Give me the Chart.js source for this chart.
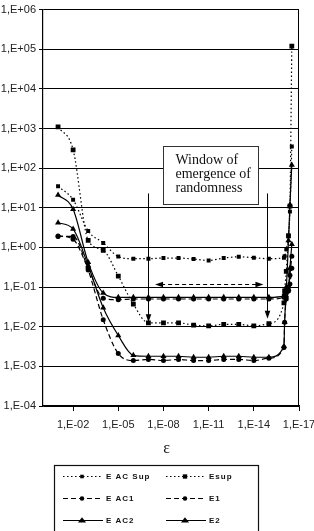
<!DOCTYPE html>
<html><head><meta charset="utf-8">
<script src="https://cdn.jsdelivr.net/npm/chart.js@4/dist/chart.umd.min.js"></script>
<style>html,body{margin:0;padding:0;background:#fff;}#wrap{width:314px;height:531px;position:relative;}</style>
</head><body><div id="wrap"><canvas id="c" width="314" height="531"></canvas></div>
<script>
// epsilon values (x)
const epsilon = [1e-1,1e-2,1e-3,1e-4,1e-5,1e-6,1e-7,1e-8,1e-9,1e-10,1e-11,1e-12,1e-13,1e-14,1e-15,1e-16,9e-17,7e-17,5e-17,4e-17,3e-17];
// series
const eACSup = [35,16,2.6,1.3,0.59,0.52,0.52,0.54,0.54,0.51,0.47,0.54,0.58,0.55,0.52,0.55,0.6,0.9,2,8,350];
const eSup   = [1100,290,1.5,0.85,0.19,0.037,0.0125,0.0125,0.0125,0.011,0.0105,0.0115,0.0115,0.0105,0.012,0.04,0.08,0.25,1.95,11,120000];
const eAC1   = [1.95,1.6,0.3,0.052,0.048,0.05,0.05,0.05,0.05,0.05,0.05,0.05,0.05,0.05,0.05,0.055,0.06,0.07,0.1,0.2,0.6];
const e1     = [1.9,1.9,0.27,0.015,0.0021,0.0014,0.0015,0.0014,0.0015,0.0014,0.0014,0.0015,0.0015,0.0014,0.0016,0.003,0.013,0.05,0.08,0.12,0.3];
const eAC2   = [21,9.2,0.42,0.071,0.055,0.055,0.055,0.055,0.055,0.055,0.055,0.055,0.055,0.055,0.055,0.06,0.07,0.1,1.5,12,120];
const e2     = [4.2,2.9,0.35,0.03,0.006,0.0019,0.0018,0.0018,0.0018,0.0017,0.0017,0.0018,0.0018,0.0017,0.0017,0.0032,0.013,0.06,0.09,0.3,1.2];
// tick labels
const yTickValues = [1e-4,1e-3,1e-2,1e-1,1e0,1e1,1e2,1e3,1e4,1e5,1e6];
const xTickValues = [1e-2,1e-5,1e-8,1e-11,1e-14,1e-17];
const seriesNames = ['E AC Sup','Esup','E AC1','E1','E AC2','E2'];
const annotationLines = ['Window of','emergence of','randomness'];
const xTitle = 'ε';

function fmt(v){
  const e = Math.round(Math.log10(v));
  return '1,E' + (e>=0?'+':'-') + String(Math.abs(e)).padStart(2,'0');
}
function pts(arr){ return arr.map((v,i)=>({x:epsilon[i], y:v})); }

const styles = [
  {dash:[1.5,2.5], pointStyle:'rect', radius:2.8},
  {dash:[1.5,2.5], pointStyle:'rect', radius:3.4},
  {dash:[5,3], pointStyle:'circle', radius:2.5},
  {dash:[5,3], pointStyle:'circle', radius:2.5},
  {dash:[], pointStyle:'triangle', radius:3.5},
  {dash:[], pointStyle:'triangle', radius:3.5}
];
const seriesData = [eACSup,eSup,eAC1,e1,eAC2,e2];
const datasets = seriesData.map((d,i)=>({
  label: seriesNames[i],
  data: pts(d),
  borderColor:'#000', backgroundColor:'#000',
  borderWidth:1.2, borderDash: styles[i].dash,
  pointStyle: styles[i].pointStyle, pointRadius: styles[i].radius,
  pointBorderWidth:0, pointBackgroundColor:'#000',
  cubicInterpolationMode:'monotone', fill:false
}));

function drawMarker(ctx, style, r, x, y){
  ctx.beginPath();
  if(style==='rect'){ const s=Math.SQRT1_2*r; ctx.rect(x-s,y-s,2*s,2*s); }
  else if(style==='circle'){ ctx.arc(x,y,r,0,Math.PI*2); }
  else { const w=r*1.3; ctx.moveTo(x,y-r); ctx.lineTo(x+w,y+r*0.6); ctx.lineTo(x-w,y+r*0.6); ctx.closePath(); }
  ctx.fill();
}
function arrowHead(ctx,x,y,dx,dy,len,half){
  ctx.beginPath();
  ctx.moveTo(x,y);
  ctx.lineTo(x-dx*len-dy*half, y-dy*len+dx*half);
  ctx.lineTo(x-dx*len+dy*half, y-dy*len-dx*half);
  ctx.closePath(); ctx.fill();
}

const overlay = {
  id:'overlay',
  afterDraw(chart){
    const {ctx, chartArea:a, scales} = chart;
    const xs = scales.x, ys = scales.y;
    ctx.save();
    ctx.strokeStyle='#000'; ctx.fillStyle='#000'; ctx.lineWidth=1;
    // right border
    const rx = Math.round(a.right)-0.5;
    ctx.beginPath(); ctx.moveTo(rx,a.top); ctx.lineTo(rx,a.bottom); ctx.stroke();
    // annotation box
    const bx1 = xs.getPixelForValue(1e-8), bx2 = xs.getPixelForValue(5e-15);
    const by1 = ys.getPixelForValue(363), by2 = ys.getPixelForValue(12.6);
    ctx.fillStyle='#fff';
    ctx.fillRect(bx1,by1,bx2-bx1,by2-by1);
    ctx.strokeStyle='#333';
    ctx.strokeRect(Math.round(bx1)+0.5,Math.round(by1)+0.5,Math.round(bx2-bx1),Math.round(by2-by1));
    ctx.fillStyle='#111';
    ctx.font='14px "Liberation Serif", "Times New Roman", serif';
    ctx.textBaseline='middle'; ctx.textAlign='left';
    annotationLines.forEach((t,i)=>ctx.fillText(t, bx1+12, by1+14+i*14.3));
    // vertical arrows
    ctx.strokeStyle='#000'; ctx.fillStyle='#000';
    [[1e-7,0.013],[1.3e-15,0.016]].forEach(([xv,yv])=>{
      const px = Math.round(xs.getPixelForValue(xv))+0.5;
      const top = ys.getPixelForValue(23), tip = ys.getPixelForValue(yv);
      ctx.beginPath(); ctx.moveTo(px,top); ctx.lineTo(px,tip-6); ctx.stroke();
      arrowHead(ctx,px,tip,0,1,8,2.8);
    });
    // horizontal dashed double arrow
    const hy = Math.round(ys.getPixelForValue(0.12))+0.5;
    const hx1 = xs.getPixelForValue(3.6e-8), hx2 = xs.getPixelForValue(2.3e-15);
    ctx.setLineDash([4,3]);
    ctx.beginPath(); ctx.moveTo(hx1+6,hy); ctx.lineTo(hx2-6,hy); ctx.stroke();
    ctx.setLineDash([]);
    arrowHead(ctx,hx1,hy,-1,0,8,2.8);
    arrowHead(ctx,hx2,hy,1,0,8,2.8);
    // x title
    ctx.fillStyle='#111';
    ctx.font='16px "Liberation Serif", "Times New Roman", serif';
    ctx.textAlign='center'; ctx.textBaseline='middle';
    ctx.fillText(xTitle, 166.5, 449);
    // legend box
    ctx.strokeStyle='#111'; ctx.lineWidth=1.2;
    ctx.strokeRect(54.5,465.5,204,80);
    ctx.font='bold 8px "Liberation Sans", Arial, sans-serif';
    ctx.textAlign='left';
    try{ ctx.letterSpacing='1px'; }catch(e){}
    const cols=[63,166], rows=[476.5,498.5,520.5];
    seriesNames.forEach((name,i)=>{
      const cx = cols[i%2], cy = rows[Math.floor(i/2)];
      const st = styles[i];
      ctx.strokeStyle='#000'; ctx.fillStyle='#000'; ctx.lineWidth=1.1;
      ctx.setLineDash(st.dash);
      ctx.beginPath(); ctx.moveTo(cx,cy); ctx.lineTo(cx+40,cy); ctx.stroke();
      ctx.setLineDash([]);
      drawMarker(ctx, st.pointStyle, st.radius*0.9, cx+19, cy);
      ctx.fillStyle='#111';
      ctx.fillText(name, cx+43, cy+0.5);
    });
    ctx.restore();
  }
};

new Chart(document.getElementById('c'), {
  type:'line',
  data:{datasets},
  options:{
    responsive:false, animation:false, devicePixelRatio:1,
    layout:{padding:{top:8,right:15,left:0,bottom:0}},
    plugins:{legend:{display:false}, tooltip:{enabled:false}},
    scales:{
      x:{
        type:'logarithmic', reverse:true, min:1e-17, max:1,
        afterBuildTicks(s){ s.ticks = xTickValues.map(v=>({value:v})); },
        afterFit(s){ s.height = 125; s.paddingLeft=0; s.paddingRight=0; },
        ticks:{callback:(v)=>fmt(v), color:'#222', padding:7, maxRotation:0, autoSkip:false,
               font:{family:'"Liberation Sans", Arial, sans-serif', size:11}},
        grid:{drawOnChartArea:false, drawTicks:true, tickLength:5, color:'#000'},
        border:{display:true, color:'#000', width:1.2}
      },
      y:{
        type:'logarithmic', min:1e-4, max:1e6,
        afterBuildTicks(s){ s.ticks = yTickValues.map(v=>({value:v})); },
        afterFit(s){ s.width = 43; },
        ticks:{callback:(v)=>fmt(v), color:'#222', padding:3, autoSkip:false,
               font:{family:'"Liberation Sans", Arial, sans-serif', size:11}},
        grid:{color:'#000', lineWidth:1, tickLength:4, drawTicks:true},
        border:{display:true, color:'#000', width:1.2}
      }
    }
  },
  plugins:[overlay]
});
</script>
</body></html>
